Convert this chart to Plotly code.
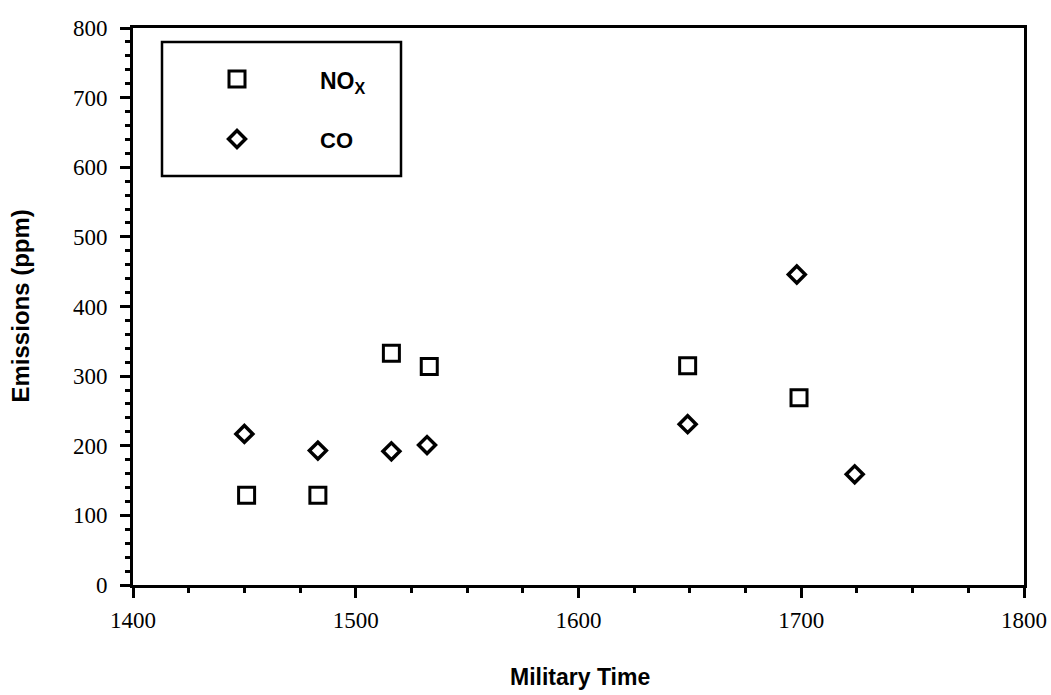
import plotly.graph_objects as go

# Sampling times (military time) and measured emissions in ppm
nox_time = [1451, 1483, 1516, 1533, 1649, 1699]
nox_ppm = [129, 129, 333, 314, 315, 269]

co_time = [1450, 1483, 1516, 1532, 1649, 1698, 1724]
co_ppm = [217, 193, 192, 201, 231, 446, 159]

x_ticks = [1400, 1500, 1600, 1700, 1800]
y_ticks = [0, 100, 200, 300, 400, 500, 600, 700, 800]

W, H = 1051, 695
M_L, M_R, M_T, M_B = 133, 27, 28, 110
PLOT_W = W - M_L - M_R
PLOT_H = H - M_T - M_B


def px_to_frac_x(px):
    return (px - M_L) / PLOT_W


def px_to_frac_y(py):
    return (H - M_B - py) / PLOT_H


SERIF = "Liberation Serif, Times New Roman, serif"
SANS = "Liberation Sans, Arial, sans-serif"

square_marker = dict(symbol="square-open", size=16, color="black",
                     line=dict(width=3, color="black"))
diamond_marker = dict(symbol="diamond-open", size=13, color="black",
                      line=dict(width=3.5, color="black"))

fig = go.Figure()
fig.add_trace(go.Scatter(x=nox_time, y=nox_ppm, mode="markers", name="NOx",
                         marker=square_marker, showlegend=False))
fig.add_trace(go.Scatter(x=co_time, y=co_ppm, mode="markers", name="CO",
                         marker=diamond_marker, showlegend=False))

# Hand-drawn key in the upper-left corner, on an overlay axis spanning 0..1
key_x = px_to_frac_x(237)
key_rows = [px_to_frac_y(79), px_to_frac_y(139)]
key_text_x = px_to_frac_x(318)
fig.add_trace(go.Scatter(x=[key_x], y=[key_rows[0]], mode="markers",
                         marker=square_marker, xaxis="x2", yaxis="y2",
                         showlegend=False, hoverinfo="skip"))
fig.add_trace(go.Scatter(x=[key_x], y=[key_rows[1]], mode="markers",
                         marker=diamond_marker, xaxis="x2", yaxis="y2",
                         showlegend=False, hoverinfo="skip"))

axis_common = dict(
    showline=True, linecolor="black", linewidth=3, mirror=True,
    showgrid=False, zeroline=False, automargin=False,
    ticks="outside", tickcolor="black", tickwidth=2.5, ticklen=10,
    tickfont=dict(family=SERIF, size=23, color="black"),
)

fig.update_layout(
    width=W, height=H,
    margin=dict(l=M_L, r=M_R, t=M_T, b=M_B, autoexpand=False),
    paper_bgcolor="white", plot_bgcolor="white",
    xaxis=dict(range=[1400, 1800], tickvals=x_ticks,
               minor=dict(dtick=25, ticks="outside", ticklen=5,
                          tickwidth=2.5, tickcolor="black", showgrid=False),
               ticklabelstandoff=2, ticklabeloverflow="allow", **axis_common),
    yaxis=dict(range=[0, 800], tickvals=y_ticks,
               minor=dict(dtick=20, ticks="outside", ticklen=5,
                          tickwidth=2.5, tickcolor="black", showgrid=False),
               ticklabelstandoff=8, **axis_common),
    xaxis2=dict(overlaying="x", range=[0, 1], visible=False, anchor="y2"),
    yaxis2=dict(overlaying="y", range=[0, 1], visible=False, anchor="x2"),
    shapes=[dict(type="rect", xref="paper", yref="paper",
                 x0=px_to_frac_x(162), x1=px_to_frac_x(401),
                 y0=px_to_frac_y(176), y1=px_to_frac_y(42),
                 line=dict(color="black", width=2.5), fillcolor="rgba(0,0,0,0)")],
    annotations=[
        dict(text="<b>NO<sub>X</sub></b>", xref="paper", yref="paper",
             x=key_text_x, y=px_to_frac_y(82), xanchor="left", yanchor="middle",
             showarrow=False, font=dict(family=SANS, size=23, color="black")),
        dict(text="<b>CO</b>", xref="paper", yref="paper",
             x=key_text_x, y=px_to_frac_y(140), xanchor="left", yanchor="middle",
             showarrow=False, font=dict(family=SANS, size=22, color="black")),
        dict(text="<b>Military Time</b>", xref="paper", yref="paper",
             x=px_to_frac_x(580), y=0, yshift=-92, xanchor="center", yanchor="middle",
             showarrow=False, font=dict(family=SANS, size=23, color="black")),
        dict(text="<b>Emissions (ppm)</b>", xref="paper", yref="paper",
             x=0, y=0.5, xshift=-113, xanchor="center", yanchor="middle",
             textangle=-90, showarrow=False,
             font=dict(family=SANS, size=24, color="black")),
    ],
)

fig.write_html("out.html")
